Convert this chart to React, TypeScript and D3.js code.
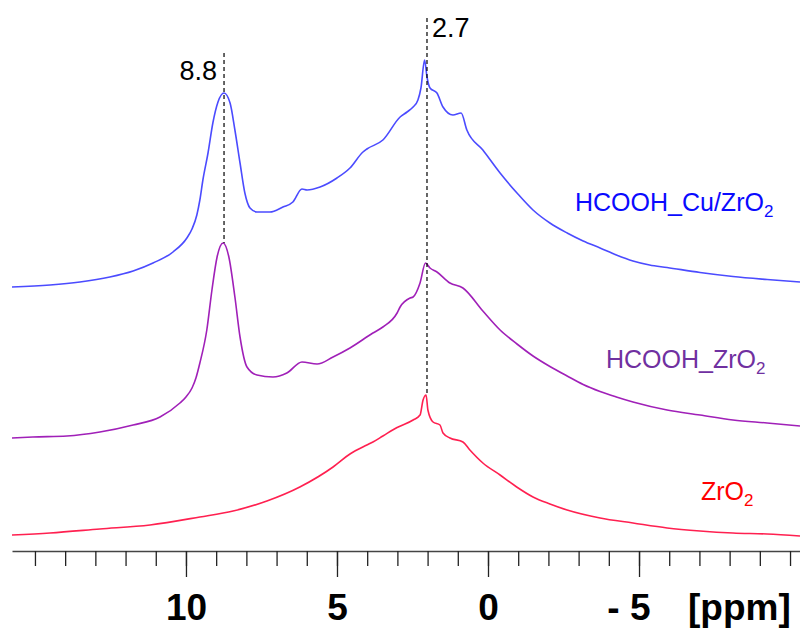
import * as d3 from 'd3';
import React, { useRef, useEffect } from 'react';

// chemical shift (ppm) and stacked intensity (a.u.)
const ppmCu = [15.76, 14.5, 13.51, 12.52, 11.75, 11.09, 10.43, 9.97, 9.8, 9.64, 9.54, 9.44, 9.27, 9.11, 8.94, 8.74, 8.54, 8.38, 8.21, 8.05, 7.88, 7.65, 7.22, 6.79, 6.46, 6.16, 5.99, 5.56, 5.0, 4.57, 4.14, 4.01, 3.48, 2.91, 2.68, 2.48, 2.32, 2.22, 2.1, 2.02, 1.92, 1.69, 1.49, 1.16, 0.89, 0.7, 0.17, -0.4, -0.96, -1.49, -2.05, -2.62, -3.15, -3.71, -4.25, -4.8, -5.35, -5.93, -7.02, -8.11, -9.24, -10.33];
const intCu = [264, 266, 269, 274, 280, 288, 299, 313, 322, 336, 351, 371, 398, 428, 449, 458, 448, 421, 388, 358, 343, 339, 339, 344, 349, 362, 361, 364, 373, 383, 399, 402, 411, 434, 439, 444, 451, 463, 491, 474, 463, 458, 444, 436, 438, 421, 401, 378, 358, 341, 328, 318, 310, 303, 296, 290, 286, 283.5, 278.5, 274.5, 271.5, 269];

const ppmHz = [15.76, 15.07, 13.94, 12.85, 11.75, 10.86, 10.2, 10.0, 9.8, 9.67, 9.54, 9.31, 9.14, 8.97, 8.77, 8.58, 8.38, 8.21, 7.98, 7.65, 7.12, 6.66, 6.16, 5.66, 5.13, 4.57, 3.81, 3.48, 3.01, 2.91, 2.58, 2.48, 2.25, 2.07, 1.92, 1.69, 1.26, 0.83, 0.17, -0.4, -0.96, -1.49, -2.05, -2.62, -3.15, -3.71, -4.25, -4.8, -5.93, -7.02, -8.11, -9.24, -10.33];
const intHz = [113, 114, 115, 119, 126, 134, 148, 154, 163, 173, 188, 221, 261, 294, 308, 294, 254, 214, 184, 176, 174, 178, 189, 187, 194, 203, 218, 224, 238, 244, 253, 254, 268, 288, 283, 279, 268, 263, 240, 221, 207, 195, 184.5, 175, 166.5, 159.5, 154, 149, 141, 136, 131, 128, 125];

const ppmZr = [15.76, 14.5, 12.85, 11.19, 9.54, 8.44, 7.32, 6.23, 5.13, 4.57, 4.01, 3.81, 3.48, 3.01, 2.48, 2.25, 2.15, 2.05, 1.99, 1.82, 1.59, 1.49, 1.26, 0.83, 0.6, 0.17, -0.4, -0.95, -1.49, -2.05, -2.62, -3.71, -4.8, -5.93, -7.02, -8.11, -9.24, -10.33];
const intZr = [16, 18, 22, 26, 34, 40, 50, 64, 84, 97, 106, 109, 115, 123.5, 131, 136, 151, 156, 141, 129, 126, 118, 113, 109, 101, 88, 76, 64, 54, 47, 41, 33, 28, 23, 20, 18, 17, 15];

const seriesNames = ['HCOOH_Cu/ZrO', 'HCOOH_ZrO', 'ZrO'];
const lineColors = ['#4b4bff', '#a020b8', '#ff2050'];
const labelColors = ['#0a0aff', '#7030a0', '#ff0000'];

const majorTicks = [10, 5, 0, -5];
const minorTicks = d3.range(-10, 16);

const markerLabels = ['8.8', '2.7'];
const markerPpm = [8.74, 2.02];
const markerTop = [498, 533];
const markerSeries = [1, 2];

const W = 800;
const H = 628;

export default function App() {
  const ref = useRef<SVGSVGElement>(null);

  useEffect(() => {
    const svg = d3.select(ref.current);
    svg.selectAll('*').remove();

    const x = d3.scaleLinear().domain([15.76, -10.33]).range([12, 800]);
    const y = d3.scaleLinear().domain([0, 540]).range([551, 11]);

    const series = [
      { ppm: ppmCu, val: intCu },
      { ppm: ppmHz, val: intHz },
      { ppm: ppmZr, val: intZr },
    ];

    const line = d3
      .line<[number, number]>()
      .x((d) => x(d[0]))
      .y((d) => y(d[1]))
      .curve(d3.curveMonotoneX);

    series.forEach((s, i) => {
      const pts = s.ppm.map((p, j) => [p, s.val[j]] as [number, number]);
      svg
        .append('path')
        .attr('d', line(pts))
        .attr('fill', 'none')
        .attr('stroke', lineColors[i])
        .attr('stroke-width', 1.6);
    });

    // dashed markers
    markerPpm.forEach((p, i) => {
      const s = series[markerSeries[i]];
      const peak = d3.max(s.val) as number;
      svg
        .append('line')
        .attr('x1', x(p))
        .attr('x2', x(p))
        .attr('y1', y(markerTop[i]))
        .attr('y2', y(peak))
        .attr('stroke', '#000')
        .attr('stroke-width', 1.2)
        .attr('stroke-dasharray', '4,3');
    });
    svg
      .append('text')
      .attr('x', x(markerPpm[0]) - 7)
      .attr('y', 80)
      .attr('text-anchor', 'end')
      .attr('font-family', 'Liberation Sans, Arial, sans-serif')
      .attr('font-size', 27)
      .text(markerLabels[0]);
    svg
      .append('text')
      .attr('x', x(markerPpm[1]) + 5)
      .attr('y', 37)
      .attr('font-family', 'Liberation Sans, Arial, sans-serif')
      .attr('font-size', 27)
      .text(markerLabels[1]);

    // series labels
    const labelPos = [
      [575, 211],
      [606, 368],
      [701, 500],
    ];
    seriesNames.forEach((n, i) => {
      const t = svg
        .append('text')
        .attr('x', labelPos[i][0])
        .attr('y', labelPos[i][1])
        .attr('fill', labelColors[i])
        .attr('font-family', 'Liberation Sans, Arial, sans-serif')
        .attr('font-size', 25);
      t.append('tspan').text(n);
      t.append('tspan').attr('font-size', 17).attr('dy', 6).text('2');
    });

    // axis
    const gMinor = svg.append('g').attr('transform', 'translate(0,551)');
    gMinor.call(
      d3.axisBottom(x).tickValues(minorTicks).tickSize(15).tickSizeOuter(0).tickFormat(() => '')
    );
    gMinor.select('.domain').attr('stroke', '#444').attr('stroke-width', 1.5);
    gMinor.selectAll('.tick line').attr('stroke', '#222').attr('stroke-width', 1.3);

    const gMajor = svg.append('g').attr('transform', 'translate(0,551)');
    gMajor.call(
      d3.axisBottom(x).tickValues(majorTicks).tickSize(26).tickSizeOuter(0).tickFormat((d) => {
        const v = +d;
        return v < 0 ? '- ' + Math.abs(v) : String(v);
      })
    );
    gMajor.select('.domain').remove();
    gMajor.selectAll('.tick line').attr('stroke', '#222').attr('stroke-width', 1.3);
    gMajor
      .selectAll<SVGTextElement, number>('.tick text')
      .attr('y', 69)
      .attr('dy', 0)
      .attr('fill', '#000')
      .attr('font-family', 'Liberation Sans, Arial, sans-serif')
      .attr('font-weight', 'bold')
      .attr('font-size', 37)
      .attr('text-anchor', (d) => (d < 0 ? 'end' : 'middle'))
      .attr('x', (d) => (d < 0 ? 11 : 0));

    svg
      .append('text')
      .attr('x', 688)
      .attr('y', 620)
      .attr('font-family', 'Liberation Sans, Arial, sans-serif')
      .attr('font-weight', 'bold')
      .attr('font-size', 37)
      .text('[ppm]');
  }, []);

  return (
    <svg
      ref={ref}
      width={W}
      height={H}
      style={{ position: 'absolute', left: 0, top: 0, background: '#fff' }}
    />
  );
}
